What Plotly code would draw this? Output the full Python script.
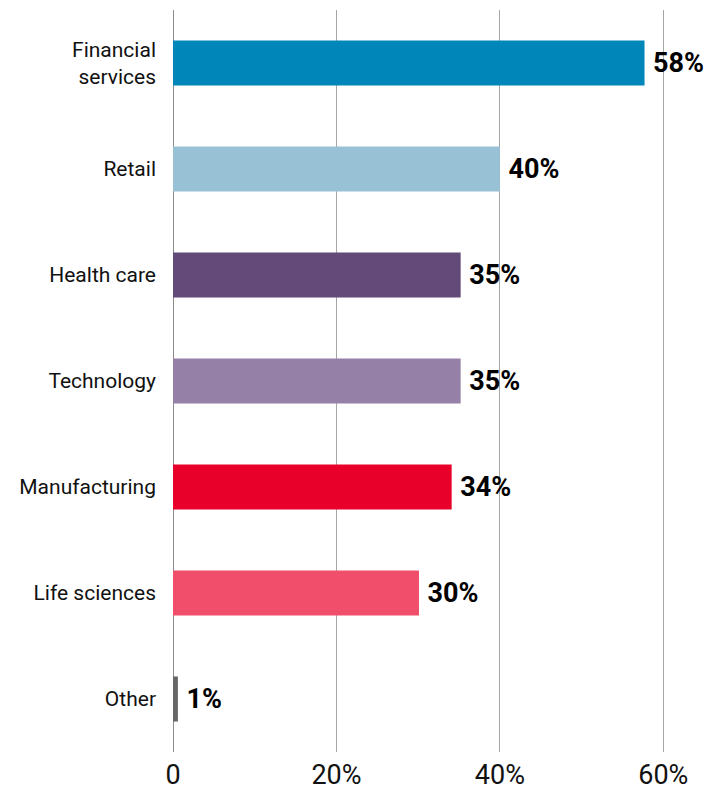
import plotly.graph_objects as go

categories = ["Financial<br>services", "Retail", "Health care", "Technology",
              "Manufacturing", "Life sciences", "Other"]
values = [57.7, 40.0, 35.2, 35.2, 34.1, 30.1, 0.6]
labels = ["58%", "40%", "35%", "35%", "34%", "30%", "1%"]
colors = ["#0086b9", "#99c1d6", "#634a78", "#9580a8", "#e8002b", "#f04e6a", "#666666"]
tick_vals = [0, 20, 40, 60]
tick_text = ["0", "20%", "40%", "60%"]

fig = go.Figure(go.Bar(
    x=values, y=categories, orientation="h",
    marker=dict(color=colors, line=dict(width=0)),
    width=0.425,
    text=["\u2009" + t for t in labels],
    textposition="outside",
    textfont=dict(family="Roboto", size=27, color="#000000", weight="bold"),
    cliponaxis=False,
))

fig.update_layout(
    width=723, height=792,
    margin=dict(l=173, r=27, t=10, b=40),
    paper_bgcolor="white", plot_bgcolor="white",
    showlegend=False,
    bargap=0.575,
    xaxis=dict(range=[0, 64], tickvals=tick_vals, ticktext=tick_text,
               showgrid=True, gridcolor="#a6a6a6", gridwidth=1,
               zeroline=True, zerolinecolor="#8c8c8c", zerolinewidth=1,
               showline=False, ticks="", automargin=False,
               tickfont=dict(family="Roboto", size=27, color="#111111"),
               ticklabelstandoff=4),
    yaxis=dict(autorange="reversed", showgrid=False, zeroline=False, showline=False,
               ticks="", automargin=False,
               tickfont=dict(family="Roboto", size=21, color="#111111"),
               ticklabelstandoff=16),
)

fig.write_html("out.html")
